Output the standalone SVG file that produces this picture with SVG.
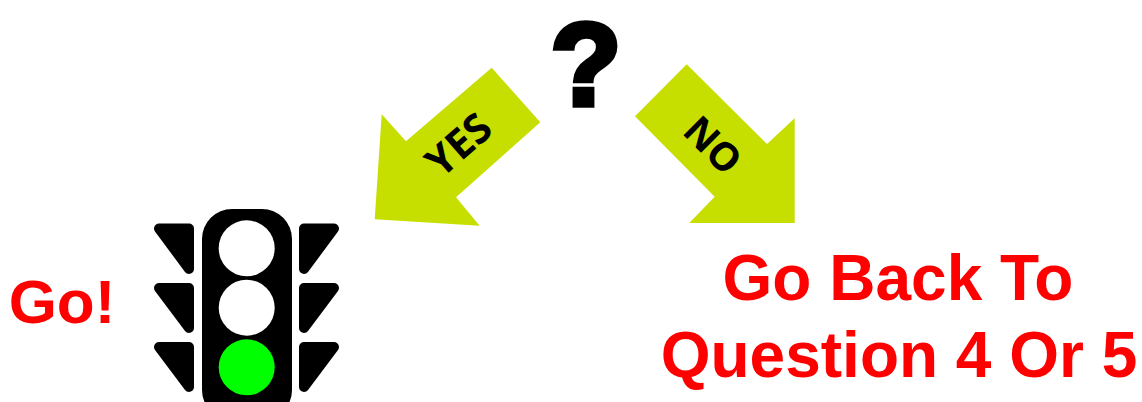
<svg xmlns="http://www.w3.org/2000/svg" width="1142" height="402" viewBox="0 0 1142 402">
<style>
.r{font-family:"Liberation Sans",Arial,sans-serif;font-weight:700;fill:#ff0000;font-size:64px;text-anchor:middle}
.a{fill:#c6de00}
.l{font-family:"Open Sans","Liberation Sans",sans-serif;font-weight:700;fill:#000;text-anchor:middle}
.t{fill:#000;stroke:#000;stroke-width:10;stroke-linejoin:round}
</style>
<rect width="1142" height="402" fill="#fff"/>
<g id="question"><text x="586" y="105" text-anchor="middle" font-family="'Liberation Sans',Arial,sans-serif" font-weight="700" font-size="116" stroke="#000" stroke-width="5.500" fill="#000">?</text></g>
<g id="connectors">
<g id="yes-arrow"><polygon class="a" points="491.7,67.7 540.3,122.3 456,197.3 479.7,225.7 374.7,219.3 381.7,114.3 406,141.3"/>
<text class="l" font-size="41" transform="translate(459,145) rotate(-41)" x="0" y="14">YES</text></g>
<g id="no-arrow"><polygon class="a" points="686.7,64.3 767,144 794.7,118.3 794.7,223 689.3,223 714.7,196.7 635,116.3"/>
<text class="l" font-size="39" transform="translate(713,145) rotate(45)" x="0" y="14">NO</text></g>
</g>
<g id="traffic-light">
<rect x="202" y="209" width="90" height="211" rx="30" fill="#000"/>
<circle cx="246.7" cy="248.3" r="28" fill="#fff"/>
<circle cx="246.7" cy="307.700" r="28" fill="#fff"/>
<circle cx="246.7" cy="367.3" r="28" fill="#00ff00"/>
<g id="left-fins">
<polygon class="t" points="159,228.500 189,228.500 189,269"/>
<polygon class="t" points="159,288 189,288 189,328"/>
<polygon class="t" points="159,347 189,347 189,387"/>
</g>
<g id="right-fins">
<polygon class="t" points="334,228.500 304,228.500 304,269"/>
<polygon class="t" points="334,288 304,288 304,328"/>
<polygon class="t" points="334,347 304,347 304,387"/>
</g>
</g>
<g id="go"><text class="r" x="62" y="323" style="font-size:62px">Go!</text></g>
<g id="go-back"><text class="r" x="898" y="300">Go Back To</text><text class="r" x="899" y="377">Question 4 Or 5</text></g>
</svg>
